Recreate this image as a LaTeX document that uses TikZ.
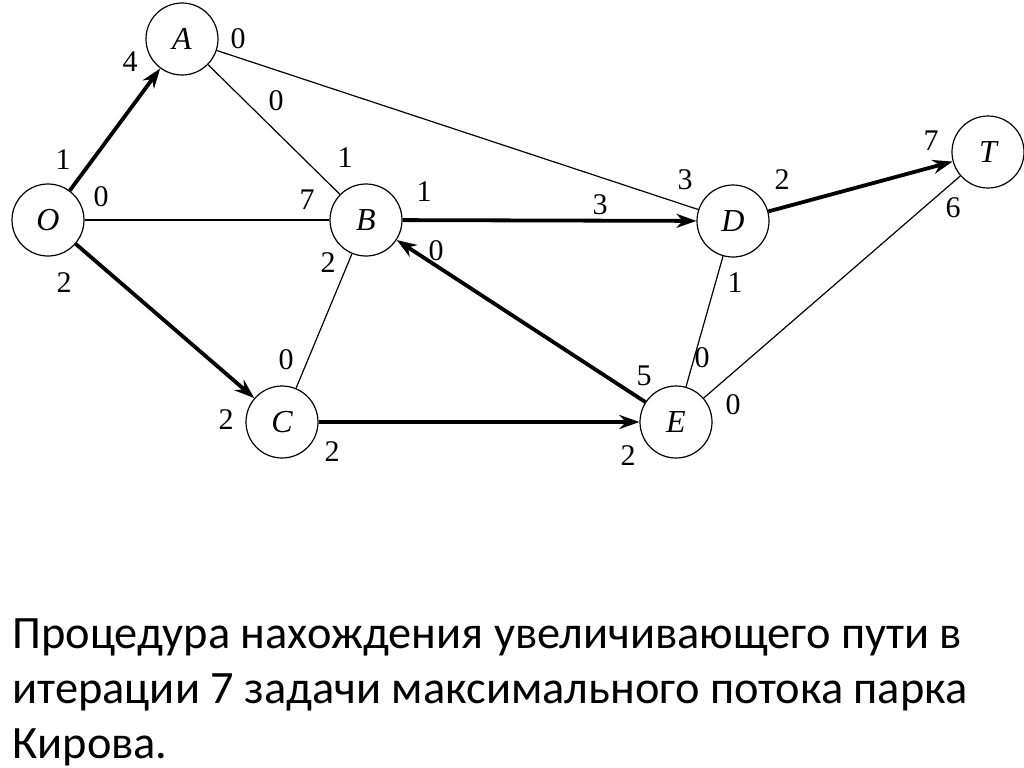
\documentclass[tikz,border=0pt]{standalone}
\usepackage{fontspec}
\setmainfont{Carlito}
\newfontfamily\tms{Liberation Serif}
\usetikzlibrary{arrows.meta}

\begin{document}
\begin{tikzpicture}[x=0.5pt, y=-0.5pt,
        vertex/.style={draw, circle, line width=0.6pt, minimum size=36pt, inner sep=0pt, font=\tms\fontsize{16}{18}\selectfont\itshape},
        arc/.style={line width=0.6pt},
        flow/.style={line width=1.9pt, -{Stealth[length=10pt, width=7pt]}},
        num/.style={font=\tms\fontsize{15}{17}\selectfont, inner sep=0pt}]
    \useasboundingbox (0,0) rectangle (1024,767);

    \node[vertex] (O) at (48,220) {O};
    \node[vertex] (A) at (182,39) {A};
    \node[vertex] (B) at (366,220) {B};
    \node[vertex] (D) at (733,221) {D};
    \node[vertex] (T) at (988,152) {T};
    \node[vertex] (C) at (282,422) {C};
    \node[vertex] (E) at (676,422) {E};

    \draw[arc] (O) -- (B);
    \draw[arc] (A) -- (B);
    \draw[arc] (A) -- (D);
    \draw[arc] (B) -- (C);
    \draw[arc] (D) -- (E);
    \draw[arc] (E) -- (T);

    \draw[flow] (O) -- (A);
    \draw[flow] (O) -- (C);
    \draw[flow] (B) -- (D);
    \draw[flow] (E) -- (B);
    \draw[flow] (C) -- (E);
    \draw[flow] (D) -- (T);

    % O -> A
    \node[num] at (63,160) {1};
    \node[num] at (130,62) {4};
    % O -- B
    \node[num] at (101,197) {0};
    \node[num] at (307,200) {7};
    % O -> C
    \node[num] at (64,283) {2};
    \node[num] at (226,420) {2};
    % A -- B
    \node[num] at (276,101) {0};
    \node[num] at (345,158) {1};
    % A -- D
    \node[num] at (238,39) {0};
    \node[num] at (685,180) {3};
    % B -> D
    \node[num] at (424,192) {1};
    \node[num] at (600,205) {3};
    % E -> B
    \node[num] at (436,251) {0};
    \node[num] at (644,376) {5};
    % B -- C
    \node[num] at (328,263) {2};
    \node[num] at (286,360) {0};
    % C -> E
    \node[num] at (332,452) {2};
    \node[num] at (628,456) {2};
    % D -> T
    \node[num] at (782,180) {2};
    \node[num] at (931,141) {7};
    % D -- E
    \node[num] at (735,283) {1};
    \node[num] at (702,358) {0};
    % E -- T
    \node[num] at (733,405) {0};
    \node[num] at (953,208) {6};

    \node[anchor=north west, align=left, inner sep=0pt, font=\fontsize{23.2}{27.5}\selectfont] (caption) at (12,618)
        {Процедура нахождения увеличивающего пути в\\
         итерации 7 задачи максимального потока парка\\
         Кирова.};
\end{tikzpicture}
\end{document}
